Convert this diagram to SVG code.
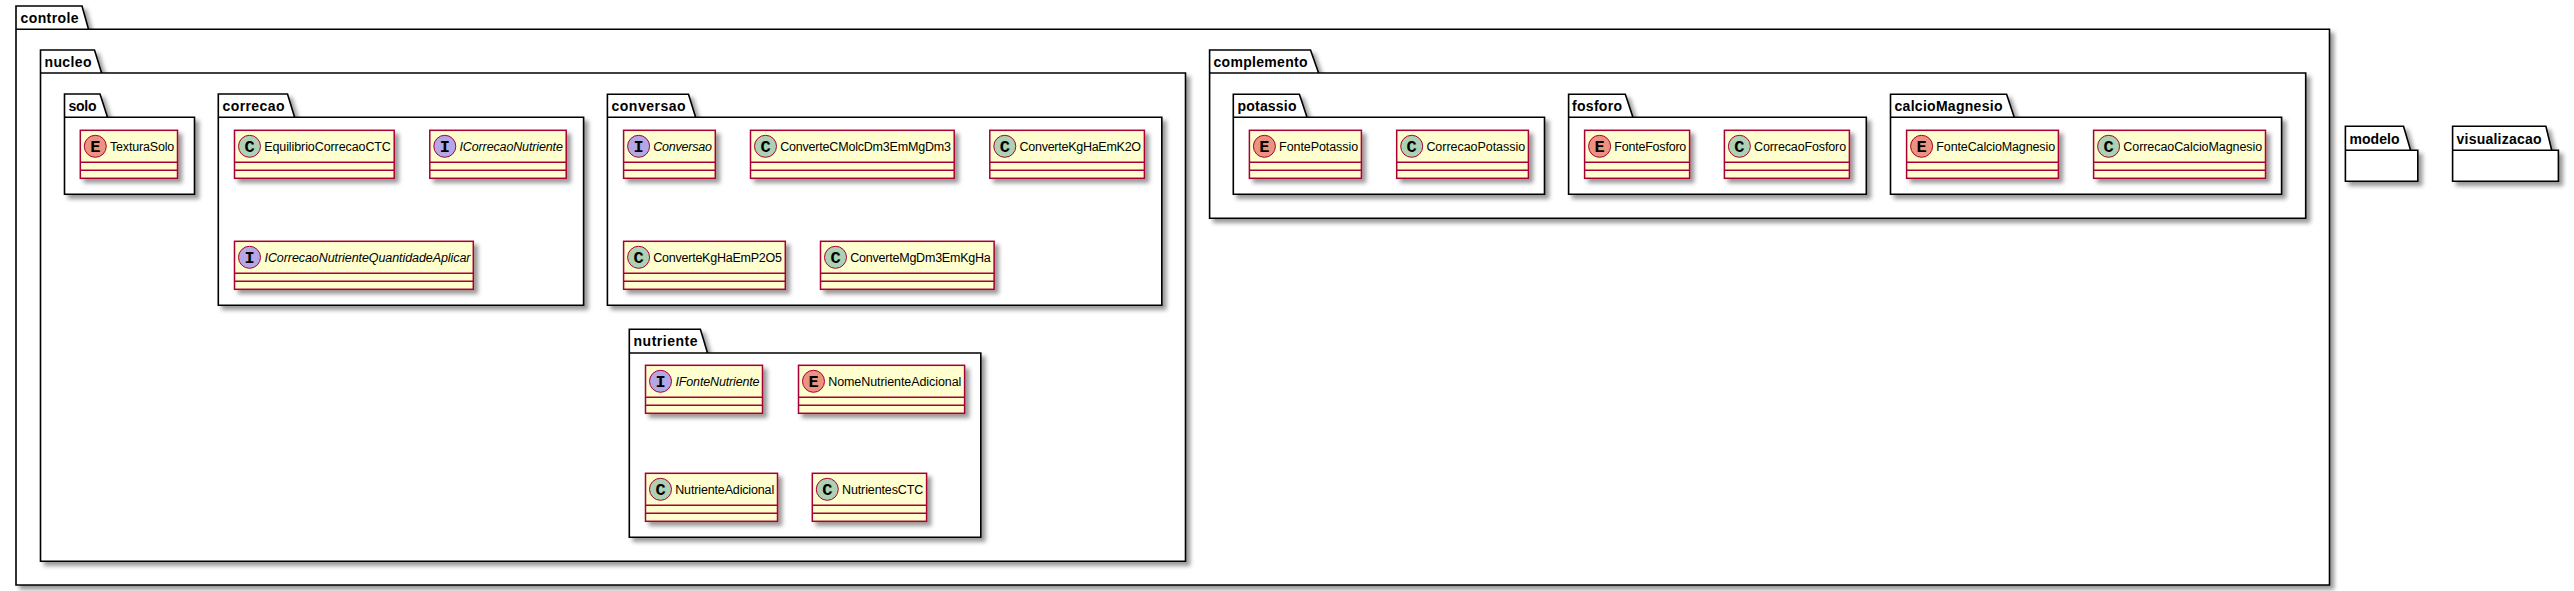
<svg xmlns="http://www.w3.org/2000/svg" width="2574" height="591" viewBox="0 0 2574 591">
<defs>
<filter id="shw" x="-50" y="-50" width="3000" height="800" filterUnits="userSpaceOnUse">
<feGaussianBlur in="SourceAlpha" stdDeviation="2" result="b"/>
<feColorMatrix in="b" type="matrix" values="0 0 0 0 0 0 0 0 0 0 0 0 0 0 0 0 0 0 .4 0" result="c"/>
<feOffset in="c" dx="4" dy="4" result="o"/>
<feBlend in="SourceGraphic" in2="o" mode="normal"/>
</filter>
</defs>
<style>
.p{fill:#fff;stroke:#000;stroke-width:1.6;filter:url(#shw)}
.pt{font:bold 14px "Liberation Sans",Arial,sans-serif;fill:#000}
.b{fill:#FEFECE;stroke:#A80036;stroke-width:1.5;filter:url(#shw)}
.d{stroke:#A80036;stroke-width:1.5}
.ci{stroke:#A80036;stroke-width:1}
.C{fill:#ADD1B2}.I{fill:#B4A7E5}.E{fill:#EB937F}
.l{font:bold 17px "Liberation Mono","DejaVu Sans Mono",monospace;fill:#000;text-anchor:middle}
.n{font:12.5px "Liberation Sans",Arial,sans-serif;fill:#000}
.i{font-style:italic}
</style>
<g id="pkg-controle"><path class="p" d="M16 6H82L88.5 29.3H2329.5V585H16ZM16 29.3H88.5"/><text class="pt" x="20.5" y="23" textLength="58" lengthAdjust="spacing">controle</text></g>
<g id="pkg-nucleo"><path class="p" d="M40.5 50H94.5L101.6 73H1185.5V561.3H40.5ZM40.5 73H101.6"/><text class="pt" x="44.5" y="67" textLength="47" lengthAdjust="spacing">nucleo</text></g>
<g id="pkg-solo"><path class="p" d="M64.5 94H100L107.5 117.3H194.5V194.3H64.5ZM64.5 117.3H107.5"/><text class="pt" x="68.5" y="111" textLength="28" lengthAdjust="spacing">solo</text></g>
<g id="pkg-correcao"><path class="p" d="M218.3 94H287.5L294.6 117.3H583.6V305.3H218.3ZM218.3 117.3H294.6"/><text class="pt" x="222.5" y="111" textLength="62" lengthAdjust="spacing">correcao</text></g>
<g id="pkg-conversao"><path class="p" d="M607.4 94.3H688.5L695.6 117.3H1161.8V305.3H607.4ZM607.4 117.3H695.6"/><text class="pt" x="611.5" y="111" textLength="74" lengthAdjust="spacing">conversao</text></g>
<g id="pkg-nutriente"><path class="p" d="M629.3 329.3H700.4L707.5 353H980.8V537.3H629.3ZM629.3 353H707.5"/><text class="pt" x="633.5" y="346" textLength="64" lengthAdjust="spacing">nutriente</text></g>
<g id="pkg-complemento"><path class="p" d="M1209.6 50H1310.5L1318.6 73H2305.7V218.3H1209.6ZM1209.6 73H1318.6"/><text class="pt" x="1213.5" y="67" textLength="94" lengthAdjust="spacing">complemento</text></g>
<g id="pkg-potassio"><path class="p" d="M1233.3 94.3H1299.4L1307 117.3H1544.5V194.3H1233.3ZM1233.3 117.3H1307"/><text class="pt" x="1237.5" y="111" textLength="59" lengthAdjust="spacing">potassio</text></g>
<g id="pkg-fosforo"><path class="p" d="M1568.6 94.3H1625.3L1632.9 117.3H1866.3V194.3H1568.6ZM1568.6 117.3H1632.9"/><text class="pt" x="1572" y="111" textLength="50" lengthAdjust="spacing">fosforo</text></g>
<g id="pkg-calcioMagnesio"><path class="p" d="M1890.5 94.3H2006.6L2014.2 117.3H2281.6V194.3H1890.5ZM1890.5 117.3H2014.2"/><text class="pt" x="1894.5" y="111" textLength="108" lengthAdjust="spacing">calcioMagnesio</text></g>
<g id="pkg-modelo"><path class="p" d="M2345.4 126.3H2403.5L2410.6 150.3H2417.8V181.3H2345.4ZM2345.4 150.3H2410.6"/><text class="pt" x="2349.5" y="143.5" textLength="50" lengthAdjust="spacing">modelo</text></g>
<g id="pkg-visualizacao"><path class="p" d="M2452.6 126.3H2545.9L2551.7 150.3H2558.4V181.3H2452.6ZM2452.6 150.3H2551.7"/><text class="pt" x="2456.5" y="143.5" textLength="85" lengthAdjust="spacing">visualizacao</text></g>

<g id="TexturaSolo" transform="translate(80.3 130.3)"><rect class="b" width="97.2" height="48"/><path class="d" d="M0 32H97.2M0 40H97.2"/><circle class="ci E" cx="15" cy="16" r="11"/><text class="l" x="15" y="21.5">E</text><text class="n" x="29.7" y="20.7" textLength="64.2" lengthAdjust="spacing">TexturaSolo</text></g>
<g id="EquilibrioCorrecaoCTC" transform="translate(234.5 130.3)"><rect class="b" width="159.7" height="48"/><path class="d" d="M0 32H159.7M0 40H159.7"/><circle class="ci C" cx="15" cy="16" r="11"/><text class="l" x="15" y="21.5">C</text><text class="n" x="29.7" y="20.7" textLength="126.7" lengthAdjust="spacing">EquilibrioCorrecaoCTC</text></g>
<g id="ICorrecaoNutriente" transform="translate(429.8 130.3)"><rect class="b" width="136.4" height="48"/><path class="d" d="M0 32H136.4M0 40H136.4"/><circle class="ci I" cx="15" cy="16" r="11"/><text class="l" x="15" y="21.5">I</text><text class="n i" x="29.7" y="20.7" textLength="103.4" lengthAdjust="spacing">ICorrecaoNutriente</text></g>
<g id="ICorrecaoNutrienteQuantidadeAplicar" transform="translate(234.5 241.3)"><rect class="b" width="238.8" height="48"/><path class="d" d="M0 32H238.8M0 40H238.8"/><circle class="ci I" cx="15" cy="16" r="11"/><text class="l" x="15" y="21.5">I</text><text class="n i" x="30" y="20.7" textLength="206" lengthAdjust="spacing">ICorrecaoNutrienteQuantidadeAplicar</text></g>
<g id="Conversao" transform="translate(623.6 130.3)"><rect class="b" width="91.7" height="48"/><path class="d" d="M0 32H91.7M0 40H91.7"/><circle class="ci I" cx="15" cy="16" r="11"/><text class="l" x="15" y="21.5">I</text><text class="n i" x="29.7" y="20.7" textLength="58.7" lengthAdjust="spacing">Conversao</text></g>
<g id="ConverteCMolcDm3EmMgDm3" transform="translate(750.5 130.3)"><rect class="b" width="203.7" height="48"/><path class="d" d="M0 32H203.7M0 40H203.7"/><circle class="ci C" cx="15" cy="16" r="11"/><text class="l" x="15" y="21.5">C</text><text class="n" x="29.7" y="20.7" textLength="170.7" lengthAdjust="spacing">ConverteCMolcDm3EmMgDm3</text></g>
<g id="ConverteKgHaEmK2O" transform="translate(989.8 130.3)"><rect class="b" width="154.6" height="48"/><path class="d" d="M0 32H154.6M0 40H154.6"/><circle class="ci C" cx="15" cy="16" r="11"/><text class="l" x="15" y="21.5">C</text><text class="n" x="29.7" y="20.7" textLength="121.6" lengthAdjust="spacing">ConverteKgHaEmK2O</text></g>
<g id="ConverteKgHaEmP2O5" transform="translate(623.6 241.3)"><rect class="b" width="161.7" height="48"/><path class="d" d="M0 32H161.7M0 40H161.7"/><circle class="ci C" cx="15" cy="16" r="11"/><text class="l" x="15" y="21.5">C</text><text class="n" x="29.7" y="20.7" textLength="128.7" lengthAdjust="spacing">ConverteKgHaEmP2O5</text></g>
<g id="ConverteMgDm3EmKgHa" transform="translate(820.5 241.3)"><rect class="b" width="173.6" height="48"/><path class="d" d="M0 32H173.6M0 40H173.6"/><circle class="ci C" cx="15" cy="16" r="11"/><text class="l" x="15" y="21.5">C</text><text class="n" x="29.7" y="20.7" textLength="140.6" lengthAdjust="spacing">ConverteMgDm3EmKgHa</text></g>
<g id="IFonteNutriente" transform="translate(645.5 365.3)"><rect class="b" width="117" height="48"/><path class="d" d="M0 32H117M0 40H117"/><circle class="ci I" cx="15" cy="16" r="11"/><text class="l" x="15" y="21.5">I</text><text class="n i" x="30" y="20.7" textLength="84" lengthAdjust="spacing">IFonteNutriente</text></g>
<g id="NomeNutrienteAdicional" transform="translate(798.5 365.3)"><rect class="b" width="166.1" height="48"/><path class="d" d="M0 32H166.1M0 40H166.1"/><circle class="ci E" cx="15" cy="16" r="11"/><text class="l" x="15" y="21.5">E</text><text class="n" x="29.7" y="20.7" textLength="133.1" lengthAdjust="spacing">NomeNutrienteAdicional</text></g>
<g id="NutrienteAdicional" transform="translate(645.5 473.3)"><rect class="b" width="132" height="48"/><path class="d" d="M0 32H132M0 40H132"/><circle class="ci C" cx="15" cy="16" r="11"/><text class="l" x="15" y="21.5">C</text><text class="n" x="29.7" y="20.7" textLength="99" lengthAdjust="spacing">NutrienteAdicional</text></g>
<g id="NutrientesCTC" transform="translate(812.3 473.3)"><rect class="b" width="114.3" height="48"/><path class="d" d="M0 32H114.3M0 40H114.3"/><circle class="ci C" cx="15" cy="16" r="11"/><text class="l" x="15" y="21.5">C</text><text class="n" x="29.7" y="20.7" textLength="81.3" lengthAdjust="spacing">NutrientesCTC</text></g>
<g id="FontePotassio" transform="translate(1249.4 130.3)"><rect class="b" width="112" height="48"/><path class="d" d="M0 32H112M0 40H112"/><circle class="ci E" cx="15" cy="16" r="11"/><text class="l" x="15" y="21.5">E</text><text class="n" x="29.7" y="20.7" textLength="79" lengthAdjust="spacing">FontePotassio</text></g>
<g id="CorrecaoPotassio" transform="translate(1396.7 130.3)"><rect class="b" width="131.7" height="48"/><path class="d" d="M0 32H131.7M0 40H131.7"/><circle class="ci C" cx="15" cy="16" r="11"/><text class="l" x="15" y="21.5">C</text><text class="n" x="29.7" y="20.7" textLength="98.7" lengthAdjust="spacing">CorrecaoPotassio</text></g>
<g id="FonteFosforo" transform="translate(1584.6 130.3)"><rect class="b" width="105" height="48"/><path class="d" d="M0 32H105M0 40H105"/><circle class="ci E" cx="15" cy="16" r="11"/><text class="l" x="15" y="21.5">E</text><text class="n" x="29.7" y="20.7" textLength="72" lengthAdjust="spacing">FonteFosforo</text></g>
<g id="CorrecaoFosforo" transform="translate(1724.4 130.3)"><rect class="b" width="125" height="48"/><path class="d" d="M0 32H125M0 40H125"/><circle class="ci C" cx="15" cy="16" r="11"/><text class="l" x="15" y="21.5">C</text><text class="n" x="29.7" y="20.7" textLength="92" lengthAdjust="spacing">CorrecaoFosforo</text></g>
<g id="FonteCalcioMagnesio" transform="translate(1906.6 130.3)"><rect class="b" width="151.8" height="48"/><path class="d" d="M0 32H151.8M0 40H151.8"/><circle class="ci E" cx="15" cy="16" r="11"/><text class="l" x="15" y="21.5">E</text><text class="n" x="29.7" y="20.7" textLength="118.8" lengthAdjust="spacing">FonteCalcioMagnesio</text></g>
<g id="CorrecaoCalcioMagnesio" transform="translate(2093.6 130.3)"><rect class="b" width="171.9" height="48"/><path class="d" d="M0 32H171.9M0 40H171.9"/><circle class="ci C" cx="15" cy="16" r="11"/><text class="l" x="15" y="21.5">C</text><text class="n" x="29.7" y="20.7" textLength="138.9" lengthAdjust="spacing">CorrecaoCalcioMagnesio</text></g>
<g id="connectors"/>
</svg>
